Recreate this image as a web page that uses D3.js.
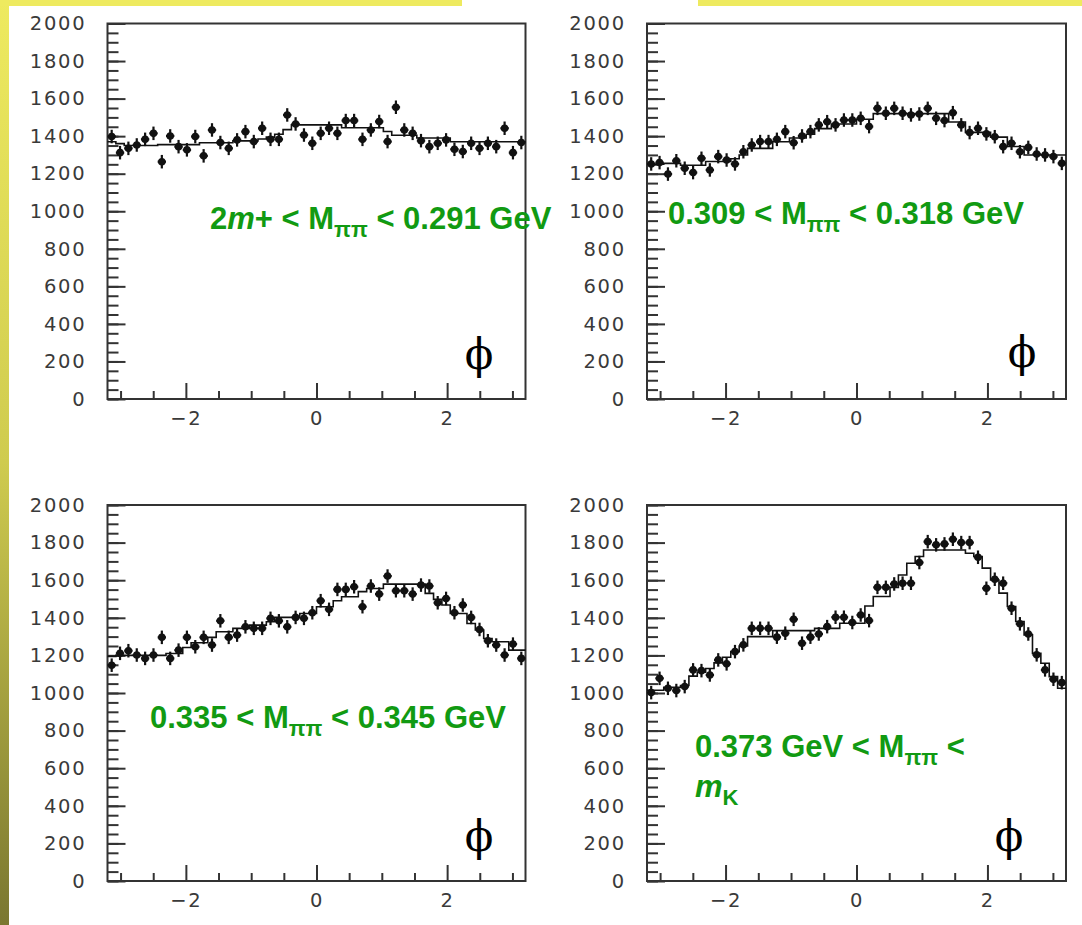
<!DOCTYPE html>
<html>
<head>
<meta charset="utf-8">
<script src="https://cdn.jsdelivr.net/npm/d3@7"></script>
<style>
  body { margin: 0; background: #fff; }
  svg { display: block; }
</style>
</head>
<body>
<svg id="chart"></svg>
<script>
const width = 1082;
const height = 925;

// histogram definition (phi axis), 50 bins
const phiDomain = [-3.2, 3.2];
const nBins = 50;
const yMajor = [0, 200, 400, 600, 800, 1000, 1200, 1400, 1600, 1800, 2000];
const xMajor = [-2, 0, 2];
const xMinor = [-3, -2.5, -1.5, -1, -0.5, 0.5, 1, 1.5, 2.5, 3];
const errBar = 36; // vertical error bar half-size (counts)

// top left : 2m+ < Mpipi < 0.291 GeV
const dataTL = [1398,1312,1335,1353,1383,1415,1264,1401,1344,1327,
                1398,1295,1433,1366,1335,1380,1424,1371,1442,1383,
                1383,1513,1465,1406,1362,1415,1442,1415,1483,1483,
                1383,1433,1478,1371,1554,1433,1415,1376,1344,1362,
                1380,1330,1318,1362,1335,1362,1344,1442,1312,1366];
const fitTL  = [1370,1360,1350,1350,1350,1350,1355,1355,1355,1355,
                1355,1365,1365,1365,1365,1375,1375,1375,1385,1395,
                1410,1435,1460,1460,1460,1460,1460,1460,1445,1445,
                1445,1445,1445,1425,1405,1405,1405,1390,1390,1390,
                1390,1370,1370,1370,1370,1370,1370,1370,1370,1370];

// top right : 0.309 < Mpipi < 0.318 GeV
const dataTR = [1252,1259,1198,1269,1229,1206,1282,1220,1291,1273,
                1252,1317,1353,1371,1371,1383,1424,1365,1401,1424,
                1460,1477,1460,1486,1486,1495,1451,1548,1522,1548,
                1522,1513,1518,1548,1495,1483,1525,1460,1419,1442,
                1412,1397,1344,1362,1317,1340,1305,1300,1291,1255];
const fitTR  = [1250,1250,1255,1255,1245,1245,1245,1265,1265,1265,
                1280,1300,1335,1335,1335,1370,1370,1390,1390,1410,
                1440,1440,1465,1465,1465,1490,1490,1520,1520,1520,
                1520,1520,1520,1520,1520,1520,1475,1475,1420,1420,
                1420,1395,1395,1345,1345,1300,1300,1300,1300,1300];

// bottom left : 0.335 < Mpipi < 0.345 GeV
const dataBL = [1148,1211,1225,1202,1184,1202,1296,1184,1228,1296,
                1246,1296,1255,1384,1296,1308,1352,1344,1344,1397,
                1384,1352,1402,1397,1427,1491,1445,1551,1551,1565,
                1459,1569,1526,1622,1544,1544,1526,1574,1569,1480,
                1503,1427,1468,1402,1338,1278,1255,1202,1260,1184];
const fitBL  = [1195,1200,1200,1200,1200,1200,1200,1210,1210,1242,
                1267,1267,1296,1326,1326,1344,1344,1361,1361,1379,
                1402,1402,1402,1423,1423,1459,1459,1491,1512,1512,
                1539,1556,1556,1579,1579,1579,1579,1579,1530,1498,
                1468,1423,1423,1370,1335,1290,1273,1273,1228,1228];

// bottom right : 0.373 GeV < Mpipi < mK
const dataBR = [1002,1078,1025,1013,1034,1123,1119,1096,1176,1155,
                1220,1256,1344,1344,1344,1297,1318,1392,1265,1297,
                1314,1353,1403,1403,1375,1415,1385,1562,1562,1580,
                1584,1584,1694,1805,1788,1793,1818,1800,1800,1722,
                1557,1605,1584,1451,1368,1314,1203,1123,1073,1055];
const fitBR  = [1015,1015,1030,1030,1040,1090,1110,1130,1160,1190,
                1220,1250,1300,1300,1300,1332,1332,1332,1332,1332,
                1344,1344,1344,1371,1371,1371,1463,1513,1513,1562,
                1628,1690,1726,1761,1761,1761,1761,1761,1743,1726,
                1664,1601,1531,1460,1380,1309,1211,1158,1087,1025];

const panels = [
  {data: dataTL, fit: fitTL, left: 107.5, right: 525.5, top: 23.5, bottom: 399, phi: [479, 369],
   labels: [{x: 210, y: 229, parts: [["2"], ["m", "it"], ["+ < M"], ["ππ", "sub"], [" < 0.291 GeV"]]}]},
  {data: dataTR, fit: fitTR, left: 647, right: 1066, top: 23.5, bottom: 399, phi: [1022, 367],
   labels: [{x: 668, y: 224, parts: [["0.309 < M"], ["ππ", "sub"], [" < 0.318 GeV"]]}]},
  {data: dataBL, fit: fitBL, left: 107.5, right: 525.5, top: 505, bottom: 881, phi: [479, 851],
   labels: [{x: 150, y: 728, parts: [["0.335 < M"], ["ππ", "sub"], [" < 0.345 GeV"]]}]},
  {data: dataBR, fit: fitBR, left: 647, right: 1066, top: 505, bottom: 881, phi: [1009, 851],
   labels: [{x: 695, y: 757, parts: [["0.373 GeV < M"], ["ππ", "sub"], [" <"]]},
            {x: 695, y: 797, parts: [["m", "it"], ["K", "sub"]]}]}
];

const svg = d3.select("#chart")
    .attr("width", width)
    .attr("height", height)
    .attr("viewBox", [0, 0, width, height]);

svg.append("rect").attr("width", width).attr("height", height).attr("fill", "#fff");

// slide decoration : yellow strips
const grad = svg.append("defs").append("linearGradient")
    .attr("id", "side").attr("x1", 0).attr("y1", 0).attr("x2", 0).attr("y2", 1);
grad.append("stop").attr("offset", "0%").attr("stop-color", "#eeea5f");
grad.append("stop").attr("offset", "50%").attr("stop-color", "#cfcb4f");
grad.append("stop").attr("offset", "100%").attr("stop-color", "#7a7730");
svg.append("rect").attr("x", 0).attr("y", 0).attr("width", 9).attr("height", height).attr("fill", "url(#side)");
svg.append("rect").attr("x", 0).attr("y", 0).attr("width", 462).attr("height", 6).attr("fill", "#eeea5f");
svg.append("rect").attr("x", 698).attr("y", 0).attr("width", 384).attr("height", 6).attr("fill", "#eeea5f");

const bw = (phiDomain[1] - phiDomain[0]) / nBins;

panels.forEach(p => {
  const x = d3.scaleLinear().domain(phiDomain).range([p.left, p.right]);
  const y = d3.scaleLinear().domain([0, 2000]).range([p.bottom, p.top]);
  const g = svg.append("g");

  // y axis: minor then major ticks (inside), labels on the left
  g.append("g")
      .attr("transform", `translate(${p.left},0)`)
      .call(d3.axisLeft(y).tickValues(d3.range(0, 2001, 50)).tickSize(-11).tickFormat(""));
  g.append("g")
      .attr("class", "lab")
      .attr("transform", `translate(${p.left},0)`)
      .call(d3.axisLeft(y).tickValues(yMajor).tickSize(-18).tickPadding(21).tickFormat(d3.format("d")));

  // x axis
  g.append("g")
      .attr("transform", `translate(0,${p.bottom})`)
      .call(d3.axisBottom(x).tickValues(xMinor).tickSize(-8).tickFormat(""));
  g.append("g")
      .attr("class", "lab")
      .attr("transform", `translate(0,${p.bottom})`)
      .call(d3.axisBottom(x).tickValues(xMajor).tickSize(-16).tickPadding(12).tickFormat(d3.format("d")));

  g.selectAll(".domain").remove();
  g.selectAll(".tick line").attr("stroke", "#333").attr("stroke-width", 2);
  g.selectAll(".lab text")
      .attr("font-family", "DejaVu Sans")
      .attr("font-size", 19.5)
      .attr("letter-spacing", 1.8)
      .attr("fill", "#3a3a3a");

  // frame
  g.append("rect")
      .attr("x", p.left).attr("y", p.top)
      .attr("width", p.right - p.left).attr("height", p.bottom - p.top)
      .attr("fill", "none").attr("stroke", "#333").attr("stroke-width", 2);

  // fitted / MC histogram as a step line
  const steps = p.fit.map((v, i) => [phiDomain[0] + i * bw, v]);
  steps.push([phiDomain[1], p.fit[p.fit.length - 1]]);
  g.append("path")
      .attr("d", d3.line().x(d => x(d[0])).y(d => y(d[1])).curve(d3.curveStepAfter)(steps))
      .attr("fill", "none").attr("stroke", "#111").attr("stroke-width", 1.6);

  // data points with error bars
  const pts = g.append("g").attr("stroke", "#111").attr("stroke-width", 2.2);
  p.data.forEach((v, i) => {
    const c = phiDomain[0] + (i + 0.5) * bw;
    pts.append("line")
        .attr("x1", x(c)).attr("x2", x(c))
        .attr("y1", y(v - errBar)).attr("y2", y(v + errBar));
    pts.append("line")
        .attr("x1", x(c - bw / 2)).attr("x2", x(c + bw / 2))
        .attr("y1", y(v)).attr("y2", y(v));
    pts.append("circle")
        .attr("cx", x(c)).attr("cy", y(v)).attr("r", 3.8)
        .attr("fill", "#111").attr("stroke", "none");
  });

  // phi symbol
  g.append("text")
      .attr("x", p.phi[0]).attr("y", p.phi[1])
      .attr("text-anchor", "middle")
      .attr("font-family", "DejaVu Serif")
      .attr("font-size", 42)
      .attr("fill", "#000")
      .text("ϕ");

  // green mass-range label
  p.labels.forEach(l => {
    const t = g.append("text")
        .attr("x", l.x).attr("y", l.y)
        .attr("font-family", "Liberation Sans, Arial, sans-serif")
        .attr("font-weight", "bold")
        .attr("font-size", 31)
        .attr("fill", "#119a12");
    let shift = 0;
    l.parts.forEach(([s, kind]) => {
      const sp = t.append("tspan").text(s);
      const want = kind === "sub" ? 8 : 0;
      if (want !== shift) { sp.attr("dy", want - shift); shift = want; }
      if (kind === "sub") sp.attr("font-size", 22);
      if (kind === "it") sp.attr("font-style", "italic");
    });
  });
});
</script>
</body>
</html>
